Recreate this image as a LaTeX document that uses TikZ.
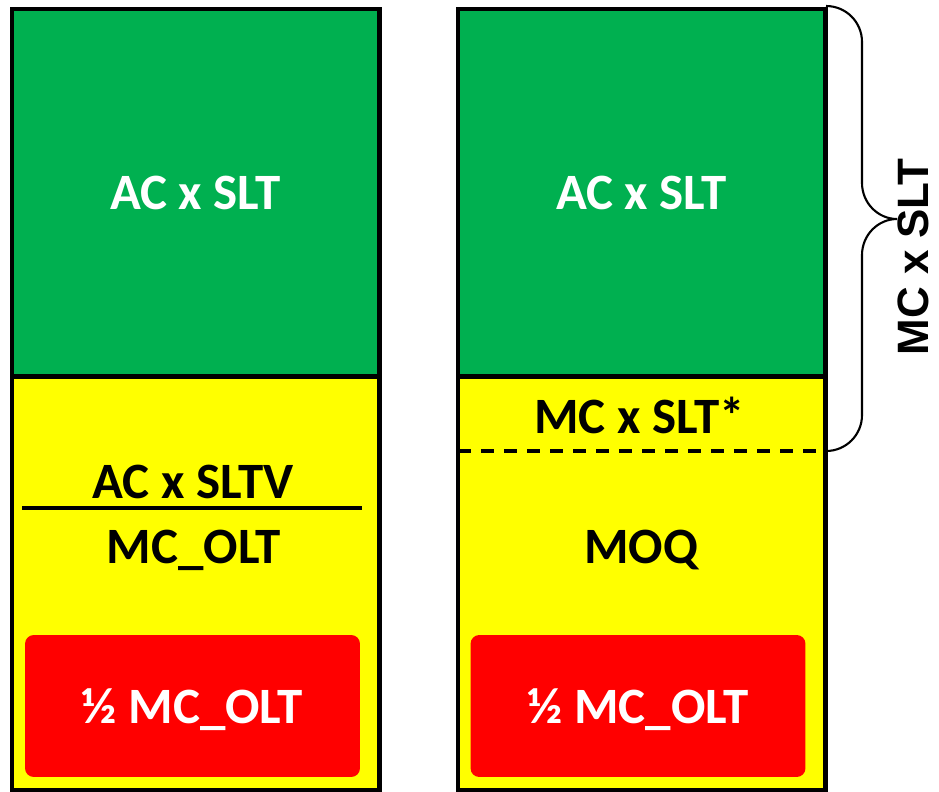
\documentclass[tikz,border=0pt]{standalone}
\usepackage{fontspec}
\setmainfont{Carlito}
\newfontfamily\arialfont{Liberation Sans}
\usepackage{xcolor}
\usepackage{tikz}
\definecolor{ofgreen}{HTML}{00B050}
\definecolor{ofyellow}{HTML}{FFFF00}
\definecolor{ofred}{HTML}{FF0000}

\begin{document}
\begin{tikzpicture}[
  x=0.02cm, y=-0.02cm,
  font=\fontsize{29}{35}\selectfont\bfseries,
  gbox/.style={draw, line width=2.5pt, fill=ofgreen, text=white, inner sep=0pt, minimum width=7.36cm, minimum height=7.36cm, anchor=north west},
  ybox/.style={draw, line width=2.5pt, fill=ofyellow, inner sep=0pt, minimum width=7.36cm, minimum height=8.27cm, anchor=north west},
  rbox/.style={fill=ofred, rounded corners=5pt, text=white, inner sep=0pt, text depth=0pt, minimum width=6.7cm, minimum height=2.84cm},
  lbl/.style={anchor=base, inner sep=0pt}
]
\useasboundingbox (0,0) rectangle (939,791);
% left column
\node[ybox] (lyellow) at (9.5,374.5) {};
\node[gbox] (lgreen) at (9.5,6.5) {AC x SLT};
\node[lbl] (sltv) at (193,498) {AC x SLTV};
\node[lbl] (olt) at (194,563) {MC\_OLT};
\node[rbox] (lhalf) at (192.5,706) {½ MC\_OLT};
\coordinate (fl) at (22,508);
\coordinate (fr) at (362,508);
\draw[line width=2pt] (fl) -- (fr);
% right column
\node[ybox] (ryellow) at (455.5,374.5) {};
\node[gbox] (rgreen) at (455.5,6.5) {AC x SLT};
\node[lbl] (slt) at (639.5,433) {MC x SLT*};
\node[lbl] (moq) at (641,563) {MOQ};
\node[rbox] (rhalf) at (638,706) {½ MC\_OLT};
\coordinate (dl) at (458,451);
\coordinate (dr) at (820,451);
\draw[line width=2.2pt, dash pattern=on 7.4pt off 5.7pt] (dl) -- (dr);
% brace
\coordinate (btop) at (826,6);
\coordinate (bbot) at (826,451);
\draw[line width=1.2pt] (btop) .. controls (846,6) and (862,22) .. (862,42) -- (862,183)
  .. controls (862,203) and (878,219) .. (897,219)
  .. controls (878,219) and (862,235) .. (862,255) -- (862,415)
  .. controls (862,435) and (846,451) .. (bbot);
\node[rotate=90, inner sep=0pt, font=\arialfont\fontsize{25}{30}\selectfont\bfseries] (mcslt) at (913,257) {MC x SLT};
\end{tikzpicture}
\end{document}
